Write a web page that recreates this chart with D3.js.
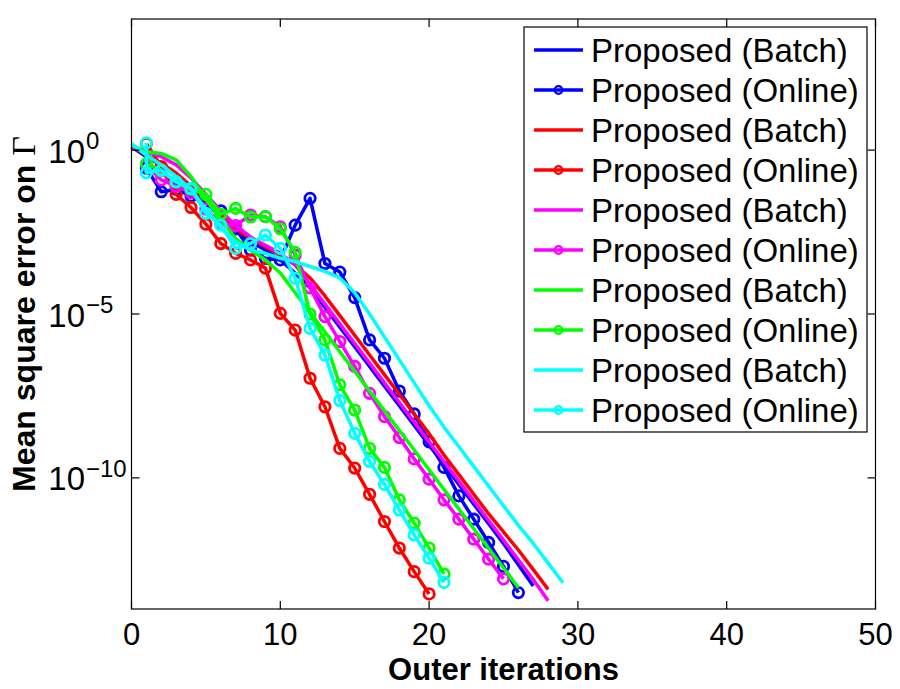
<!DOCTYPE html>
<html lang="en">
<head>
  <meta charset="UTF-8">
  <title>Mean square error on Gamma</title>
  <script src="https://d3js.org/d3.v7.min.js"></script>
  <style>
    html, body { margin: 0; padding: 0; background: #fff; }
    text { font-family: "Liberation Sans", Arial, Helvetica, sans-serif; fill: #000; }
  </style>
</head>
<body>
  <script>
    // values, as log10 of the mean square error
    // batch curves start at iteration 0, online curves at iteration 1
    let blueBatchLog = [0.1, -0.2, -0.45, -0.75, -1.15, -1.6, -2.05, -2.45, -2.8, -3.05, -3.35, -3.75, -4.2, -4.8,
      -5.4, -6.0, -6.6, -7.2, -7.8, -8.4, -9.0, -9.6, -10.2, -10.8, -11.4, -12.0, -12.65, -13.3]
    let blueOnlineLog = [-0.55, -1.27, -1.2, -1.4, -1.6, -1.85, -2.4, -3.05, -3.3, -3.35, -2.29, -1.47, -3.46, -3.72,
      -4.5, -5.79, -6.35, -7.35, -8.05, -8.9, -9.68, -10.55, -11.26, -11.97, -12.7, -13.5]
    let redBatchLog = [0.1, -0.15, -0.4, -0.7, -1.1, -1.55, -2.0, -2.4, -2.7, -2.95, -3.2, -3.5, -3.9, -4.45, -5.05,
      -5.65, -6.25, -6.85, -7.45, -8.05, -8.65, -9.3, -9.9, -10.5, -11.1, -11.65, -12.2, -12.8, -13.4]
    let redOnlineLog = [0.2, -0.5, -1.35, -1.75, -2.26, -2.85, -3.15, -3.35, -3.6, -4.98, -5.49, -6.96, -7.83, -9.1,
      -9.7, -10.5, -11.33, -12.14, -12.86, -13.54]
    let magentaBatchLog = [0.1, -0.05, -0.2, -0.45, -0.85, -1.35, -1.85, -2.3, -2.65, -2.9, -3.15, -3.5, -4.1, -4.7,
      -5.3, -5.9, -6.5, -7.1, -7.7, -8.3, -8.9, -9.5, -10.1, -10.7, -11.3, -11.9, -12.5, -13.1, -13.75]
    let magentaOnlineLog = [-0.45, -0.91, -1.1, -1.3, -1.8, -2.25, -2.3, -1.98, -2.03, -2.34, -3.2, -4.2, -5.08, -5.84,
      -6.6, -7.42, -8.13, -8.77, -9.42, -10.04, -10.67, -11.26, -11.87, -12.48, -13.08]
    let greenBatchLog = [0.15, -0.05, -0.1, -0.3, -0.8, -1.5, -2.1, -2.7, -3.05, -3.35, -3.75, -4.35, -4.95, -5.55,
      -6.15, -6.75, -7.35, -7.95, -8.55, -9.15, -9.75, -10.35, -10.95, -11.55, -12.15, -12.75, -13.35]
    let greenOnlineLog = [-0.41, -0.63, -0.97, -1.2, -1.35, -1.95, -1.78, -2.04, -2.03, -2.4, -3.12, -5.0, -5.79, -7.16,
      -7.93, -9.1, -9.68, -10.67, -11.38, -12.14, -12.93]
    let cyanBatchLog = [0.2, -0.15, -0.45, -0.8, -1.2, -1.8, -2.35, -2.8, -3.05, -3.15, -3.3, -3.4, -3.55, -3.7, -3.9,
      -4.35, -5.0, -5.7, -6.4, -7.1, -7.8, -8.45, -9.05, -9.65, -10.25, -10.85, -11.45, -12.0, -12.6, -13.2]
    // cyan online has two points at iteration 1
    let cyanOnlineIter = [1, 1, 2, 3, 4, 5, 6, 7, 8, 9, 10, 11, 12, 13, 14, 15, 16, 17, 18, 19, 20, 21]
    let cyanOnlineLog = [0.22, -0.69, -0.61, -0.97, -1.17, -1.93, -2.29, -3.0, -2.85, -2.59, -3.0, -3.91, -5.44, -6.25,
      -7.64, -8.64, -9.5, -10.2, -10.98, -11.74, -12.45, -13.19]

    let legendLabels = ['Proposed (Batch)', 'Proposed (Online)']
    let xTicks = [0, 10, 20, 30, 40, 50]
    let yTickExps = [0, -5, -10]

    let W = 900, H = 689
    let pLeft = 131.5, pRight = 875.5, pTop = 19, pBottom = 609

    let x = d3.scaleLinear().domain([0, 50]).range([pLeft, pRight])
    let y = d3.scaleLog().domain([1e-14, 1e4]).range([pBottom, pTop])

    // each series as {iter, val}
    function batch(arr) { return arr.map((v, i) => ({ iter: i, val: Math.pow(10, v) })) }
    function online(arr, iters) {
      return arr.map((v, i) => ({ iter: iters ? iters[i] : i + 1, val: Math.pow(10, v) }))
    }

    let series = [
      { color: '#0000ff', marker: false, pts: batch(blueBatchLog) },
      { color: '#0000ff', marker: true, pts: online(blueOnlineLog) },
      { color: '#ff0000', marker: false, pts: batch(redBatchLog) },
      { color: '#ff0000', marker: true, pts: online(redOnlineLog) },
      { color: '#ff00ff', marker: false, pts: batch(magentaBatchLog) },
      { color: '#ff00ff', marker: true, pts: online(magentaOnlineLog) },
      { color: '#00ff00', marker: false, pts: batch(greenBatchLog) },
      { color: '#00ff00', marker: true, pts: online(greenOnlineLog) },
      { color: '#00ffff', marker: false, pts: batch(cyanBatchLog) },
      { color: '#00ffff', marker: true, pts: online(cyanOnlineLog, cyanOnlineIter) }
    ]

    let svg = d3.select('body')
      .append('svg')
      .attr('width', W)
      .attr('height', H)

    svg.append('rect').attr('width', W).attr('height', H).attr('fill', '#fff')

    let line = d3.line()
      .x(d => x(d.iter))
      .y(d => y(d.val))

    series.forEach(s => {
      let g = svg.append('g')
      g.append('path')
        .datum(s.pts)
        .attr('d', line)
        .attr('fill', 'none')
        .attr('stroke', s.color)
        .attr('stroke-width', 3.5)
        .attr('stroke-linejoin', 'round')
      if (s.marker) {
        g.selectAll('circle')
          .data(s.pts)
          .enter()
          .append('circle')
          .attr('cx', d => x(d.iter))
          .attr('cy', d => y(d.val))
          .attr('r', 5.2)
          .attr('fill', 'none')
          .attr('stroke', s.color)
          .attr('stroke-width', 2.8)
      }
    })

    // axes box with inward ticks (bottom/top and left/right)
    let tickLen = 8
    let axes = svg.append('g').attr('stroke', '#000').attr('stroke-width', 1.2)
    axes.append('rect')
      .attr('x', pLeft).attr('y', pTop)
      .attr('width', pRight - pLeft).attr('height', pBottom - pTop)
      .attr('fill', 'none')

    xTicks.forEach(t => {
      axes.append('line').attr('x1', x(t)).attr('x2', x(t)).attr('y1', pBottom).attr('y2', pBottom - tickLen)
      axes.append('line').attr('x1', x(t)).attr('x2', x(t)).attr('y1', pTop).attr('y2', pTop + tickLen)
    })
    yTickExps.forEach(e => {
      let yy = y(Math.pow(10, e))
      axes.append('line').attr('x1', pLeft).attr('x2', pLeft + tickLen).attr('y1', yy).attr('y2', yy)
      axes.append('line').attr('x1', pRight).attr('x2', pRight - tickLen).attr('y1', yy).attr('y2', yy)
    })

    svg.selectAll('.xlab')
      .data(xTicks)
      .enter()
      .append('text')
      .attr('class', 'xlab')
      .attr('x', d => x(d))
      .attr('y', 645)
      .attr('text-anchor', 'middle')
      .style('font-size', '31px')
      .text(d => d)

    // y tick labels: "10" with the exponent as a superscript
    yTickExps.forEach(e => {
      let yy = y(Math.pow(10, e))
      svg.append('text')
        .attr('x', 85).attr('y', yy + 12.5)
        .attr('text-anchor', 'end')
        .style('font-size', '33px')
        .text('10')
      svg.append('text')
        .attr('x', 86).attr('y', yy - 1)
        .style('font-size', '24px')
        .text(String(e).replace('-', '\u2212'))
    })

    svg.append('text')
      .attr('x', (pLeft + pRight) / 2)
      .attr('y', 680)
      .attr('text-anchor', 'middle')
      .style('font-size', '31px')
      .style('font-weight', 'bold')
      .text('Outer iterations')

    let ylab = svg.append('text')
      .attr('transform', 'translate(35,' + ((pTop + pBottom) / 2) + ') rotate(-90)')
      .attr('text-anchor', 'middle')
      .style('font-size', '32px')
      .style('font-weight', 'bold')
    ylab.append('tspan').text('Mean square error on ')
    ylab.append('tspan')
      .style('font-family', '"Liberation Serif", "DejaVu Serif", serif')
      .style('font-weight', 'normal')
      .style('font-size', '34px')
      .text('\u0393')

    // legend
    let lg = svg.append('g')
    lg.append('rect')
      .attr('x', 524).attr('y', 27)
      .attr('width', 343).attr('height', 405)
      .attr('fill', '#fff')
      .attr('stroke', '#000')
      .attr('stroke-width', 1.2)

    let rows = lg.selectAll('.row')
      .data(series)
      .enter()
      .append('g')
      .attr('class', 'row')
      .attr('transform', (d, i) => 'translate(0,' + (50 + i * 40) + ')')
    rows.append('line')
      .attr('x1', 534).attr('x2', 583)
      .attr('stroke', d => d.color)
      .attr('stroke-width', 3.3)
    rows.filter(d => d.marker)
      .append('circle')
      .attr('cx', 558.5).attr('r', 3.8)
      .attr('fill', 'none')
      .attr('stroke', d => d.color)
      .attr('stroke-width', 2.2)
    rows.append('text')
      .attr('x', 591).attr('y', 11.7)
      .style('font-size', '33px')
      .text(d => d.marker ? legendLabels[1] : legendLabels[0])
  </script>
</body>
</html>
